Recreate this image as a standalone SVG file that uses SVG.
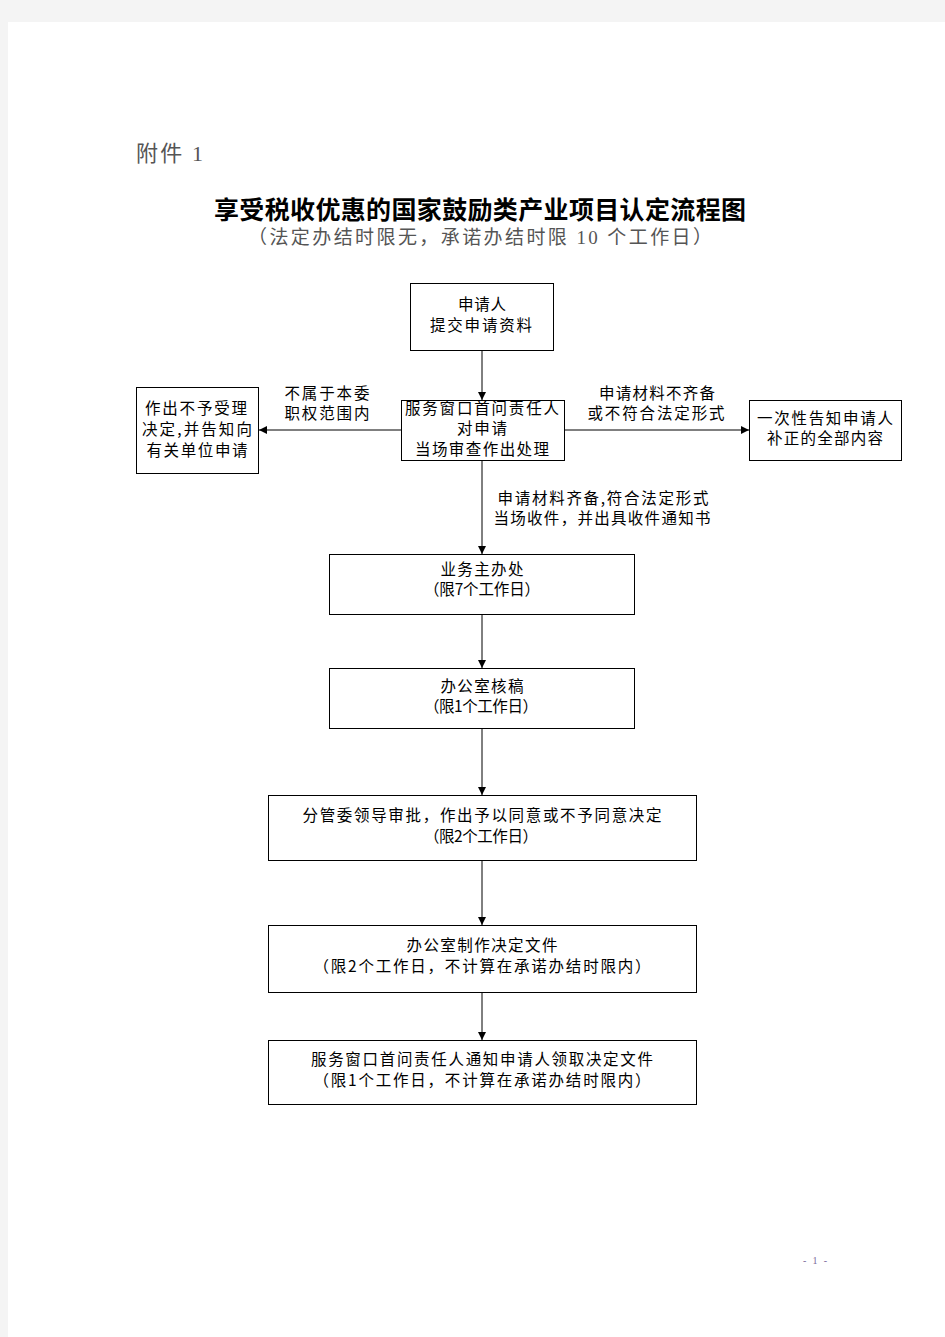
<svg xmlns="http://www.w3.org/2000/svg" width="945" height="1337" viewBox="0 0 945 1337">
<style>
.bg{fill:#f4f4f4}
.page{fill:#ffffff}
.box{fill:#ffffff;stroke:#000000;stroke-width:1}
.t{font-family:"Noto Sans CJK SC","Liberation Sans",sans-serif;font-size:15.5px;fill:#000000;text-anchor:middle}
.title{font-family:"Noto Sans CJK SC","Liberation Sans",sans-serif;font-size:25px;font-weight:bold;fill:#000000;text-anchor:middle}
.sub{font-family:"Liberation Serif","Noto Sans CJK SC",serif;font-size:19px;fill:#555555;text-anchor:middle}
.att{font-family:"Liberation Serif","Noto Sans CJK SC",serif;font-size:22px;fill:#555555}
.pn{font-family:"Liberation Serif",serif;font-size:10px;fill:#7a6a9a}
.line{stroke:#000000;stroke-width:1;fill:none}
</style>
<defs>
<marker id="arr" viewBox="0 0 10 10" refX="10" refY="5" markerWidth="8" markerHeight="8" markerUnits="userSpaceOnUse" orient="auto">
<path d="M0,0 L10,5 L0,10 Z" fill="#000000"/>
</marker>
</defs>
<rect class="bg" x="0" y="0" width="945" height="1337"/>
<rect class="page" x="8" y="22" width="937" height="1315"/>

<g id="header">
<text class="att" x="136" y="161" textLength="67" lengthAdjust="spacing">附件 1</text>
<text class="title" x="480" y="219" textLength="532" lengthAdjust="spacing">享受税收优惠的国家鼓励类产业项目认定流程图</text>
<text class="sub" x="480" y="244" textLength="464" lengthAdjust="spacing">（法定办结时限无，承诺办结时限 10 个工作日）</text>
</g>

<g id="connectors">
<line class="line" x1="482" y1="351" x2="482" y2="400" marker-end="url(#arr)"/>
<line class="line" x1="401" y1="430" x2="259" y2="430" marker-end="url(#arr)"/>
<line class="line" x1="564" y1="430" x2="749" y2="430" marker-end="url(#arr)"/>
<line class="line" x1="482" y1="461" x2="482" y2="554" marker-end="url(#arr)"/>
<line class="line" x1="482" y1="615" x2="482" y2="668" marker-end="url(#arr)"/>
<line class="line" x1="482" y1="728" x2="482" y2="795" marker-end="url(#arr)"/>
<line class="line" x1="482" y1="860" x2="482" y2="925" marker-end="url(#arr)"/>
<line class="line" x1="482" y1="992" x2="482" y2="1040" marker-end="url(#arr)"/>
<text class="t" x="327" y="399" textLength="85" lengthAdjust="spacing">不属于本委</text>
<text class="t" x="327" y="419" textLength="85" lengthAdjust="spacing">职权范围内</text>
<text class="t" x="657" y="399" textLength="116" lengthAdjust="spacing">申请材料不齐备</text>
<text class="t" x="656" y="419" textLength="137" lengthAdjust="spacing">或不符合法定形式</text>
<text class="t" x="603" y="504" textLength="211" lengthAdjust="spacing">申请材料齐备,符合法定形式</text>
<text class="t" x="602" y="524" textLength="217" lengthAdjust="spacing">当场收件，并出具收件通知书</text>
</g>

<g id="n-applicant">
<rect class="box" x="410.5" y="283.5" width="143" height="67"/>
<text class="t" x="482" y="310" textLength="48" lengthAdjust="spacing">申请人</text>
<text class="t" x="481" y="331" textLength="102" lengthAdjust="spacing">提交申请资料</text>
</g>

<g id="n-window">
<rect class="box" x="401.5" y="400.5" width="163" height="60"/>
<text class="t" x="482" y="414" textLength="154" lengthAdjust="spacing">服务窗口首问责任人</text>
<text class="t" x="482" y="434" textLength="50" lengthAdjust="spacing">对申请</text>
<text class="t" x="482" y="455" textLength="134" lengthAdjust="spacing">当场审查作出处理</text>
</g>

<g id="n-reject">
<rect class="box" x="136.5" y="387.5" width="122" height="86"/>
<text class="t" x="196" y="414" textLength="102" lengthAdjust="spacing">作出不予受理</text>
<text class="t" x="197" y="435" textLength="110" lengthAdjust="spacing">决定,并告知向</text>
<text class="t" x="197" y="456" textLength="101" lengthAdjust="spacing">有关单位申请</text>
</g>

<g id="n-notify">
<rect class="box" x="749.5" y="400.5" width="152" height="60"/>
<text class="t" x="825" y="424" textLength="136" lengthAdjust="spacing">一次性告知申请人</text>
<text class="t" x="825" y="444" textLength="116" lengthAdjust="spacing">补正的全部内容</text>
</g>

<g id="n-dept">
<rect class="box" x="329.5" y="554.5" width="305" height="60"/>
<text class="t" x="482" y="575" textLength="83" lengthAdjust="spacing">业务主办处</text>
<text class="t" x="482" y="595" textLength="116" lengthAdjust="spacing">（限7个工作日）</text>
</g>

<g id="n-office-review">
<rect class="box" x="329.5" y="668.5" width="305" height="60"/>
<text class="t" x="482" y="692" textLength="83" lengthAdjust="spacing">办公室核稿</text>
<text class="t" x="481" y="712" textLength="114" lengthAdjust="spacing">（限1个工作日）</text>
</g>

<g id="n-leader">
<rect class="box" x="268.5" y="795.5" width="428" height="65"/>
<text class="t" x="482" y="821" textLength="359" lengthAdjust="spacing">分管委领导审批，作出予以同意或不予同意决定</text>
<text class="t" x="481" y="842" textLength="114" lengthAdjust="spacing">（限2个工作日）</text>
</g>

<g id="n-office-doc">
<rect class="box" x="268.5" y="925.5" width="428" height="67"/>
<text class="t" x="482" y="951" textLength="151" lengthAdjust="spacing">办公室制作决定文件</text>
<text class="t" x="482" y="972" textLength="337" lengthAdjust="spacing">（限2个工作日，不计算在承诺办结时限内）</text>
</g>

<g id="n-final">
<rect class="box" x="268.5" y="1040.5" width="428" height="64"/>
<text class="t" x="482" y="1065" textLength="342" lengthAdjust="spacing">服务窗口首问责任人通知申请人领取决定文件</text>
<text class="t" x="482" y="1086" textLength="337" lengthAdjust="spacing">（限1个工作日，不计算在承诺办结时限内）</text>
</g>

<g id="footer">
<text class="pn" x="803" y="1264" textLength="24" lengthAdjust="spacing">- 1 -</text>
</g>
</svg>
